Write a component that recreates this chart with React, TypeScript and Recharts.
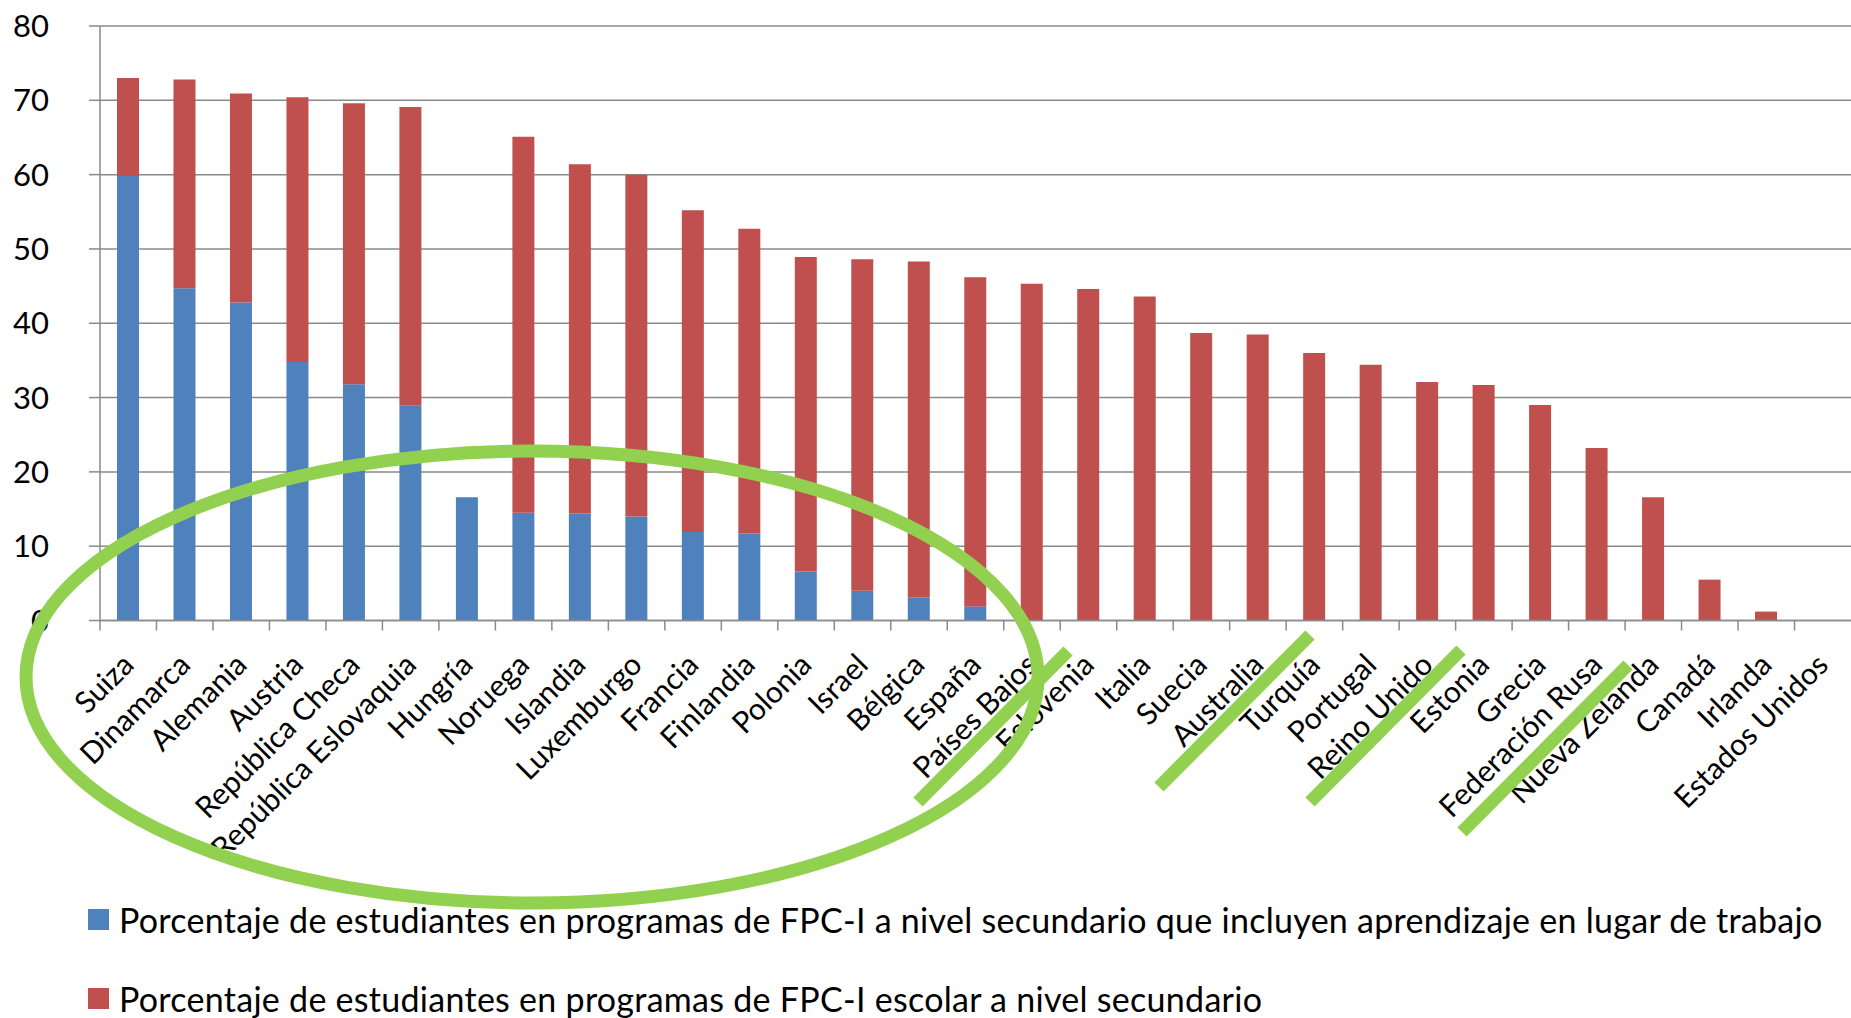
import React from 'react';
import { BarChart, Bar, XAxis, YAxis, CartesianGrid, Legend } from 'recharts';

const categories = [
  'Suiza', 'Dinamarca', 'Alemania', 'Austria', 'República Checa', 'República Eslovaquia',
  'Hungría', 'Noruega', 'Islandia', 'Luxemburgo', 'Francia', 'Finlandia', 'Polonia',
  'Israel', 'Bélgica', 'España', 'Países Bajos', 'Eslovenia', 'Italia', 'Suecia',
  'Australia', 'Turquía', 'Portugal', 'Reino Unido', 'Estonia', 'Grecia',
  'Federación Rusa', 'Nueva Zelanda', 'Canadá', 'Irlanda', 'Estados Unidos',
];

// Work-based learning share (blue)
const workBased = [
  59.8, 44.7, 42.8, 34.8, 31.8, 28.9, 16.6, 14.5, 14.4, 14.0, 11.9, 11.7, 6.6,
  4.0, 3.1, 1.9, 0, 0, 0, 0, 0, 0, 0, 0, 0, 0, 0, 0, 0, 0, 0,
];

// School-based share (red)
const schoolBased = [
  13.2, 28.1, 28.1, 35.6, 37.8, 40.2, 0, 50.6, 47.0, 46.0, 43.3, 41.0, 42.3,
  44.6, 45.2, 44.3, 45.3, 44.6, 43.6, 38.7, 38.5, 36.0, 34.4, 32.1, 31.7, 29.0,
  23.2, 16.6, 5.5, 1.2, 0,
];

const yTicks = [0, 10, 20, 30, 40, 50, 60, 70, 80];

const seriesNames = [
  'Porcentaje de estudiantes en programas de FPC-I a nivel secundario que incluyen aprendizaje en lugar de trabajo',
  'Porcentaje de estudiantes en programas de FPC-I escolar a nivel secundario',
];

const seriesColors = ['#4F81BD', '#C0504D'];

const data = categories.map((name, i) => ({
  name,
  work: workBased[i],
  school: schoolBased[i],
}));

const W = 1851;
const H = 1018;
const TOP = 26;
const Y_AXIS_W = 100;
const PLOT_BOTTOM = 620.5;
const X_AXIS_H = H - PLOT_BOTTOM;
const PLOT_W = W - Y_AXIS_W;
const BAND = PLOT_W / categories.length;
const FONT = 'Lato, "Open Sans", sans-serif';
const GRID = '#8a8a8a';
const GREEN = '#92D050';

const XTick = (props: any) => {
  const { x, payload } = props;
  const bx = x - BAND / 2;
  return (
    <g>
      <line x1={bx} x2={bx} y1={PLOT_BOTTOM} y2={PLOT_BOTTOM + 10} stroke={GRID} strokeWidth={1.5} />
      <text
        transform={`translate(${x + 2},${PLOT_BOTTOM + 41}) rotate(-45)`}
        textAnchor="end"
        dy="0.25em"
        fontSize={30}
        fontFamily={FONT}
        fill="#000"
      >
        {payload.value}
      </text>
    </g>
  );
};

const YTick = (props: any) => {
  const { y, payload } = props;
  return (
    <text x={49} y={y} dy="0.36em" textAnchor="end" fontSize={31} fontFamily={FONT} fill="#000">
      {payload.value}
    </text>
  );
};

const LegendBox = () => (
  <div style={{ position: 'relative', width: 1760, height: 102, fontFamily: FONT }}>
    {seriesNames.map((n, i) => (
      <div
        key={n}
        style={{
          position: 'absolute',
          left: 0,
          top: i * 79,
          display: 'flex',
          alignItems: 'center',
          height: 21,
          whiteSpace: 'nowrap',
        }}
      >
        <div style={{ width: 21, height: 21, background: seriesColors[i], marginRight: 10, flex: 'none' }} />
        <span style={{ fontSize: 34, letterSpacing: '0.28px', color: '#000', lineHeight: '21px' }}>{n}</span>
      </div>
    ))}
  </div>
);

export default function App() {
  return (
    <div style={{ position: 'absolute', left: 0, top: 0, width: W, height: H, background: '#fff', overflow: 'hidden' }}>
      <BarChart
        width={W}
        height={H}
        data={data}
        margin={{ top: TOP, right: 0, bottom: 0, left: 0 }}
        barSize={22}
      >
        <CartesianGrid vertical={false} stroke={GRID} strokeWidth={1.5} />
        <XAxis
          dataKey="name"
          interval={0}
          height={X_AXIS_H}
          tickLine={false}
          tickSize={0}
          axisLine={{ stroke: GRID, strokeWidth: 1.5 }}
          tick={(p: any) => <XTick {...p} />}
        />
        <YAxis
          width={Y_AXIS_W}
          domain={[0, 80]}
          ticks={yTicks}
          interval={0}
          tickSize={11}
          tickLine={{ stroke: GRID, strokeWidth: 1.5 }}
          axisLine={{ stroke: GRID, strokeWidth: 1.5 }}
          tick={(p: any) => <YTick {...p} />}
        />
        <Legend
          layout="vertical"
          align="center"
          verticalAlign="middle"
          wrapperStyle={{ position: 'absolute', left: 88, top: 909, width: 1760, height: 102 }}
          content={() => <LegendBox />}
        />
        <Bar dataKey="work" name={seriesNames[0]} stackId="a" fill={seriesColors[0]} isAnimationActive={false} />
        <Bar dataKey="school" name={seriesNames[1]} stackId="a" fill={seriesColors[1]} isAnimationActive={false} />
      </BarChart>
      <svg
        width={W}
        height={H}
        style={{ position: 'absolute', left: 0, top: 0, pointerEvents: 'none' }}
      >
        <ellipse cx={532} cy={677} rx={506} ry={226} fill="none" stroke={GREEN} strokeWidth={13} />
        <line x1={918} y1={802} x2={1068} y2={651} stroke={GREEN} strokeWidth={13} />
        <line x1={1159} y1={787} x2={1310} y2={635} stroke={GREEN} strokeWidth={13} />
        <line x1={1310} y1={802} x2={1461} y2={650} stroke={GREEN} strokeWidth={13} />
        <line x1={1462} y1={832} x2={1628} y2={665} stroke={GREEN} strokeWidth={13} />
      </svg>
    </div>
  );
}
